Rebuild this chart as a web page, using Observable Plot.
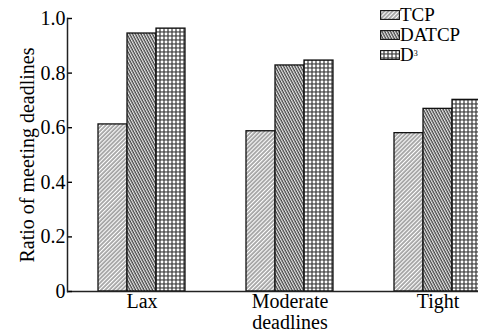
<!DOCTYPE html>
<html><head><meta charset="utf-8">
<script src="https://cdn.jsdelivr.net/npm/d3@7"></script>
<script src="https://cdn.jsdelivr.net/npm/@observablehq/plot@0.6"></script>
<style>
html,body{margin:0;padding:0;background:#fff;overflow:hidden}
#wrap{position:relative;width:478px;height:334px;overflow:hidden;font-family:"Liberation Serif","Times New Roman",serif}
#legend{position:absolute;left:0;top:0}
.lrow{position:absolute;left:380px;height:20px;display:flex;align-items:center;font-size:19px;line-height:20px;color:#000}
.lrow svg{display:block;margin-right:0}
sup{font-size:8px;vertical-align:top;position:relative;top:-1px}
</style>
</head><body>
<svg width="0" height="0" style="position:absolute">
  <defs>
    <pattern id="pTCP" patternUnits="userSpaceOnUse" width="2.9" height="6" patternTransform="rotate(45)">
      <rect width="2.9" height="6" fill="#fff"/>
      <line x1="1" y1="0" x2="1" y2="6" stroke="#444" stroke-width="0.9"/>
    </pattern>
    <pattern id="pDATCP" patternUnits="userSpaceOnUse" width="2.5" height="6" patternTransform="rotate(-28)">
      <rect width="2.5" height="6" fill="#e8e8e8"/>
      <line x1="1" y1="0" x2="1" y2="6" stroke="#222" stroke-width="1.05"/>
    </pattern>
    <pattern id="pD3" patternUnits="userSpaceOnUse" width="4" height="4">
      <rect width="4" height="4" fill="#5a5a5a"/>
      <circle cx="2" cy="2" r="1.45" fill="#fff"/>
    </pattern>
  </defs>
</svg>
<div id="wrap"><div id="chart"></div><div id="legend"></div></div>
<script>
const categories = ["Lax", "Moderate", "Tight"];
const series = ["TCP", "DATCP", "D3"];
const seriesLabels = ["TCP", "DATCP", "D"];
const tcpValues = [0.612, 0.587, 0.580];
const datcpValues = [0.945, 0.828, 0.669];
const d3Values = [0.963, 0.846, 0.702];
const yTicks = [0, 0.2, 0.4, 0.6, 0.8, 1.0];
const xTitle = "deadlines";
const yTitle = "Ratio of meeting deadlines";
const patterns = ["url(#pTCP)", "url(#pDATCP)", "url(#pD3)"];

const valuesBySeries = [tcpValues, datcpValues, d3Values];
const data = categories.flatMap((c, i) =>
  series.map((s, j) => ({category: c, series: s, value: valuesBySeries[j][i]}))
);

const font = '"Liberation Serif","Times New Roman",serif';

const chart = Plot.plot({
  width: 478,
  height: 334,
  marginLeft: 67,
  marginRight: -33,
  marginTop: 18,
  marginBottom: 43,
  style: {fontFamily: font, fontSize: "20px", color: "#000", background: "#fff", overflow: "hidden"},
  fx: {domain: categories, paddingInner: 0, paddingOuter: 0, axis: null},
  x: {domain: series, paddingInner: 0, paddingOuter: 1, axis: null},
  y: {domain: [0, 1], axis: null},
  color: {type: "ordinal", domain: series, range: patterns},
  marks: [
    Plot.barY(data, {fx: "category", x: "series", y: "value", fill: "series", stroke: "#111", strokeWidth: 1.3}),
    Plot.ruleY([0], {stroke: "#222", strokeWidth: 1.5}),
    Plot.axisY({
      ticks: yTicks,
      tickSize: -5,
      tickPadding: 7,
      strokeWidth: 1.4,
      tickFormat: d => d === 0 ? "0" : d.toFixed(1),
      label: yTitle,
      labelAnchor: "center",
      labelArrow: "none",
      labelOffset: 48,
      fontSize: 20
    }),
    Plot.frame({anchor: "left", facetAnchor: "left", stroke: "#222", strokeWidth: 1.5}),
    Plot.text(categories, {fx: d => d, x: () => "DATCP", frameAnchor: "bottom", dy: 16, text: d => d, fontSize: 20}),
    Plot.text([xTitle], {fx: () => "Moderate", x: () => "DATCP", frameAnchor: "bottom", dy: 37, text: d => d, fontSize: 20})
  ]
});
document.getElementById("chart").appendChild(chart);

const legend = document.getElementById("legend");
const rowCenters = [14.5, 34.5, 54.5];
series.forEach((s, j) => {
  const row = document.createElement("div");
  row.className = "lrow";
  row.style.top = (rowCenters[j] - 10) + "px";
  row.innerHTML = `<svg width="20" height="10"><rect x="0.6" y="0.6" width="18.8" height="8.8" fill="${patterns[j]}" stroke="#111" stroke-width="1.1"/></svg><span>${seriesLabels[j]}${s === "D3" ? "<sup>3</sup>" : ""}</span>`;
  legend.appendChild(row);
});
</script>
</body></html>
